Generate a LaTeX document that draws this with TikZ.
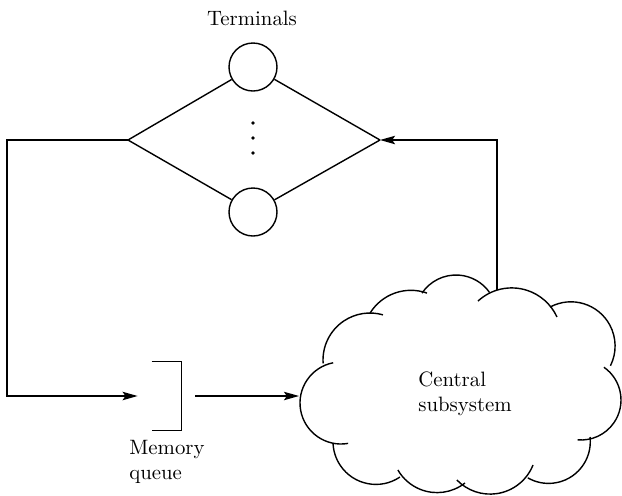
\documentclass[tikz,border=0pt]{standalone}
\usetikzlibrary{arrows.meta}
\begin{document}
\begin{tikzpicture}[x=0.5pt,y=-0.5pt,
  line/.style={line width=0.7pt},
  arr/.style={line, -{Stealth[length=7.5pt,width=4.2pt,inset=1.4pt]}},
  term/.style={circle, draw, line width=0.7pt, minimum size=24pt, inner sep=0pt},
  lbl/.style={font=\fontsize{10.4}{12.5}\selectfont, inner sep=0pt, align=left}]
\useasboundingbox (0,0) rectangle (622,495);
% labels
\node[lbl, align=center] (title) at (252,18) {Terminals};
\node[lbl, anchor=west] (mq) at (129,462) {Memory\\queue};
\node[lbl, anchor=west] (cs) at (418,394) {Central\\subsystem};
% terminals
\node[term] (t1) at (253,67) {};
\node[term] (t2) at (253,212) {};
\coordinate (fl) at (128,140);
\coordinate (fr) at (380,140);
\draw[line] (fl) -- (t1) (fl) -- (t2);
\draw[line] (fr) -- (t1) (fr) -- (t2);
\foreach \y in {123,138,153} \fill (253,\y) circle[radius=1.9];
% memory queue
\node[minimum width=14.5pt, minimum height=34pt, inner sep=0pt] (q) at (166.5,396) {};
\draw[line] (q.north west) -- (q.north east) -- (q.south east) -- (q.south west);
% cloud
\foreach \cx/\cy/\r/\s/\e in {
  341/403/41/80/259,
  370/360/47/176/286,
  410.9/338.3/48/211.7/289.6,
  456/316/41/214/325,
  511.7/337.7/49.8/227.4/335.4,
  570.9/346/44.2/241.8/386.5,
  581/400/40/-55/95,
  548.6/441.7/41.7/-6.5/120,
  490.1/447.9/46.2/21.7/136,
  437.1/447.3/45.3/52/150,
  375.9/441.5/42.9/56/178}
  \draw[line] (\cx,\cy) ++(\s:\r) arc[start angle=\s, end angle=\e, radius=\r];
\coordinate (cl) at (299,396);
\coordinate (ct) at (497,290);
% connectors
\draw[arr] (fl) -- ++(-121,0) |- ([xshift=-7pt]q.west);
\draw[arr] ([xshift=7pt]q.east) -- (cl);
\draw[arr] (ct) |- (fr);
\end{tikzpicture}
\end{document}
